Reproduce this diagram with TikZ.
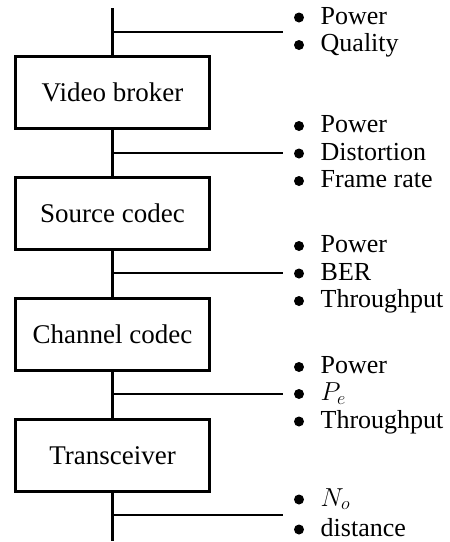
\RequirePackage{fix-cm}
\documentclass[tikz,border=0pt]{standalone}
\usepackage{fontspec}
\setmainfont{Liberation Serif}
\begin{document}
\begin{tikzpicture}[x=1pt,y=-1pt,
  blk/.style={draw, line width=2.6pt, minimum width=194pt, minimum height=72pt, inner sep=0pt, font=\fontsize{27}{31}\selectfont},
  spine/.style={line width=3pt},
  branch/.style={line width=2pt},
  dot/.style={circle, fill, inner sep=0pt, minimum size=10pt},
  item/.style={anchor=base west, inner sep=0pt, font=\fontsize{26}{30}\selectfont}]
\useasboundingbox (0,0) rectangle (450,542);

% blocks
\node[blk] (b1) at (112.5,92.5) {Video broker};
\node[blk] (b2) at (112.5,213.5) {Source codec};
\node[blk] (b3) at (112.5,334.5) {Channel codec};
\node[blk] (b4) at (112.5,455.7) {Transceiver};

% spine
\coordinate (top) at (112.5,8);
\coordinate (bot) at (112.5,541);
\draw[spine] (top) -- (b1.north);
\draw[spine] (b1.south) -- (b2.north);
\draw[spine] (b2.south) -- (b3.north);
\draw[spine] (b3.south) -- (b4.north);
\draw[spine] (b4.south) -- (bot);

% branch points
\coordinate (j1) at (112.5,32);   \coordinate (e1) at (283,32);
\coordinate (j2) at (112.5,153);  \coordinate (e2) at (283,153);
\coordinate (j3) at (112.5,273);  \coordinate (e3) at (283,273);
\coordinate (j4) at (112.5,394);  \coordinate (e4) at (283,394);
\coordinate (j5) at (112.5,515);  \coordinate (e5) at (283,515);
\draw[line width=2.6pt] (j1) -- (e1);
\draw[branch] (j2) -- (e2);
\draw[branch] (j3) -- (e3);
\draw[branch] (j4) -- (e4);
\draw[branch] (j5) -- (e5);

% group 1
\node[dot] (d11) at (299,17.5) {}; \node[item] (t11) at (320.5,24) {Power};
\node[dot] (d12) at (299,45) {};   \node[item] (t12) at (320.5,51.5) {Quality};
% group 2
\node[dot] (d21) at (299,126) {};   \node[item] (t21) at (320.5,132.5) {Power};
\node[dot] (d22) at (299,153.5) {}; \node[item] (t22) at (320.5,160) {Distortion};
\node[dot] (d23) at (299,181) {};   \node[item] (t23) at (320.5,187.5) {Frame rate};
% group 3
\node[dot] (d31) at (299,246) {};   \node[item] (t31) at (320.5,252.5) {Power};
\node[dot] (d32) at (299,273.5) {}; \node[item] (t32) at (320.5,280) {BER};
\node[dot] (d33) at (299,301) {};   \node[item] (t33) at (320.5,307.5) {Throughput};
% group 4
\node[dot] (d41) at (299,367) {};   \node[item] (t41) at (320.5,373.5) {Power};
\node[dot] (d42) at (299,394) {};   \node[item] (t42) at (320.5,400.5) {$P_e$};
\node[dot] (d43) at (299,421.5) {}; \node[item] (t43) at (320.5,428) {Throughput};
% group 5
\node[dot] (d51) at (299,499.5) {}; \node[item] (t51) at (320.5,506) {$N_o$};
\node[dot] (d52) at (299,529.5) {}; \node[item] (t52) at (320.5,536) {distance};
\end{tikzpicture}
\end{document}
